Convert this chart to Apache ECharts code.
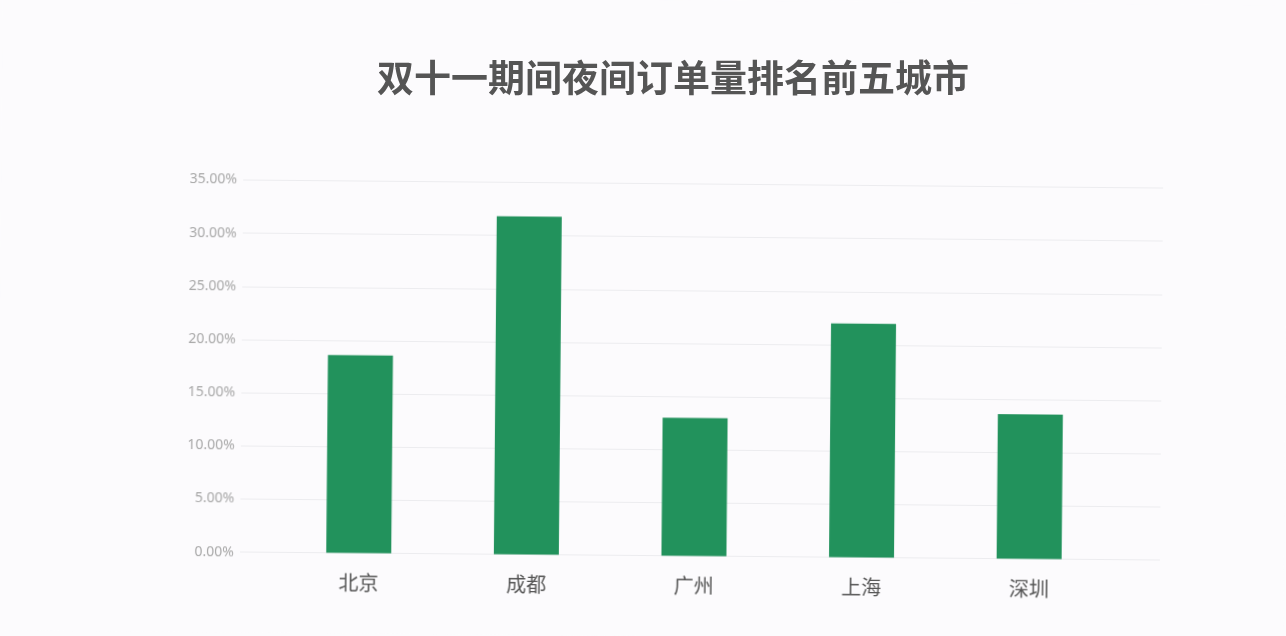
<!DOCTYPE html>
<html>
<head>
<meta charset="utf-8">
<script src="https://cdn.jsdelivr.net/npm/echarts@6/dist/echarts.min.js"></script>
<style>
  html, body { margin: 0; padding: 0; background: #fcfbfd; }
  #plot, #head { position: absolute; left: 0; top: 0; width: 1286px; height: 636px; }
  #plot { transform: rotate(0.5deg); transform-origin: 643px 318px; }
</style>
</head>
<body>
<div id="plot"></div>
<div id="head"></div>
<script>
const titleText = '双十一期间夜间订单量排名前五城市';
const cities = ['北京', '成都', '广州', '上海', '深圳'];
const orderShare = [18.6, 31.8, 13.0, 22.0, 13.6];
const yMin = 0, yMax = 35, yStep = 5;

const head = echarts.init(document.getElementById('head'));
head.setOption({
  backgroundColor: 'transparent',
  title: {
    text: titleText,
    left: 668, top: 54, textAlign: 'center',
    textStyle: { fontSize: 37, fontWeight: 'bold', color: '#555555',
      fontFamily: '"Noto Sans CJK SC", sans-serif' }
  }
});

const plot = echarts.init(document.getElementById('plot'));
plot.setOption({
  backgroundColor: '#fcfbfd',
  animation: false,
  grid: [
    { left: 242, right: 124, top: 183.5, bottom: 636 - 555.6 },
    { left: 277, right: 171, top: 183.5, bottom: 636 - 555.6 }
  ],
  xAxis: [
    { gridIndex: 0, type: 'category', data: cities, show: false },
    { gridIndex: 1, type: 'category', data: cities,
      axisLine: { show: false }, axisTick: { show: false },
      axisLabel: { margin: 20, fontSize: 20, color: '#555555',
        fontFamily: '"Noto Sans CJK SC", sans-serif' } }
  ],
  yAxis: [
    { gridIndex: 0, type: 'value', min: yMin, max: yMax, interval: yStep,
      axisLine: { show: false }, axisTick: { show: false },
      axisLabel: { margin: 6, fontSize: 14, color: '#a8a8a8',
        fontFamily: '"Noto Sans", sans-serif',
        formatter: v => v.toFixed(2) + '%' },
      splitLine: { lineStyle: { color: '#ececef', width: 1 } } },
    { gridIndex: 1, type: 'value', min: yMin, max: yMax, interval: yStep, show: false,
      splitLine: { show: false } }
  ],
  series: [{
    type: 'bar', xAxisIndex: 1, yAxisIndex: 1,
    data: orderShare, barWidth: 65,
    itemStyle: { color: '#22925c' }
  }]
});
</script>
</body>
</html>
